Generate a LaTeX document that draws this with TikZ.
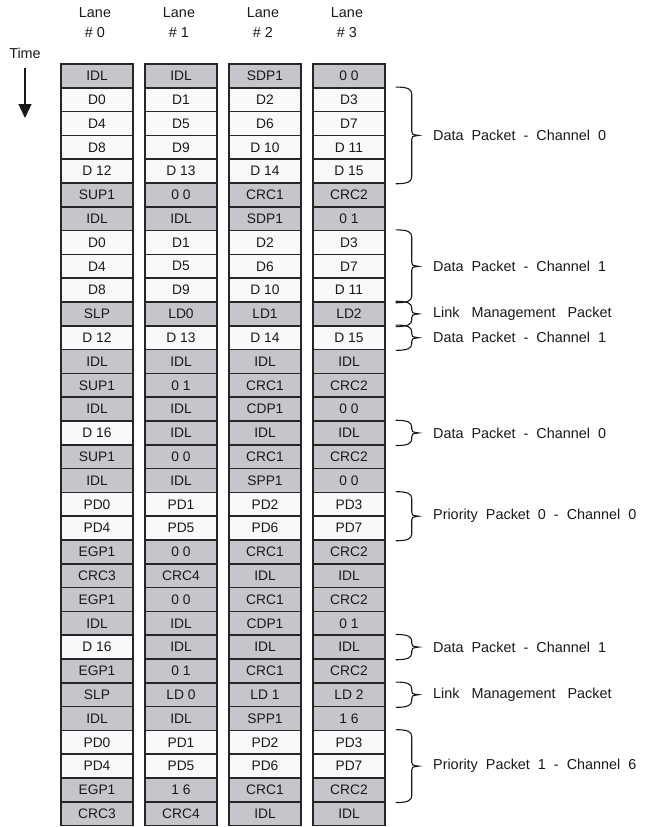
\documentclass[tikz,border=0pt]{standalone}
\usepackage{fontspec}
\setmainfont{Liberation Sans}
\usepackage{xcolor}
\usetikzlibrary{calc,arrows.meta}
\definecolor{cellgray}{HTML}{C4C6CC}
\definecolor{cellwhite}{HTML}{F8F9FB}
\definecolor{edge}{HTML}{262626}

\begin{document}
\begin{tikzpicture}[
  x=0.5pt, y=-0.5pt,
  font=\fontsize{6.9}{8}\selectfont,
  cell/.style={draw=edge, line width=0.75pt, minimum width=36pt, minimum height=11.9pt, inner sep=0pt, text=black!90},
  gc/.style={cell, fill=cellgray},
  wc/.style={cell, fill=cellwhite},
  head/.style={font=\fontsize{7.2}{9.7}\selectfont, align=center, text=black!90},
  pklab/.style={font=\fontsize{7.2}{8.5}\selectfont, anchor=west, inner sep=0pt, text=black!90},
  brc/.style={draw=black!90, line width=0.55pt},
  tarr/.style={-{Triangle[length=7pt,width=6.5pt]}, line width=0.6pt, black!90}]
  \useasboundingbox (0,0) rectangle (647,827);
  % lane heads and time axis
  \foreach \l in {0,...,3}
    \node[head] (lane\l) at ({95+84*\l},22.5) {Lane\\\# \l};
  \node[head] (time) at (25,53) {Time};
  \coordinate (tend) at (26,118);
  \draw[tarr] ([yshift=-1.5pt]time.south) -- (time.south |- tend);
  % one row per time slot, lanes 0..3
  \foreach \cells [count=\r] in {
    {gc/IDL,gc/IDL,gc/SDP1,gc/0 0},
    {wc/D0,wc/D1,wc/D2,wc/D3},
    {wc/D4,wc/D5,wc/D6,wc/D7},
    {wc/D8,wc/D9,wc/D 10,wc/D 11},
    {wc/D 12,wc/D 13,wc/D 14,wc/D 15},
    {gc/SUP1,gc/0 0,gc/CRC1,gc/CRC2},
    {gc/IDL,gc/IDL,gc/SDP1,gc/0 1},
    {wc/D0,wc/D1,wc/D2,wc/D3},
    {wc/D4,wc/D5,wc/D6,wc/D7},
    {wc/D8,wc/D9,wc/D 10,wc/D 11},
    {gc/SLP,gc/LD0,gc/LD1,gc/LD2},
    {wc/D 12,wc/D 13,wc/D 14,wc/D 15},
    {gc/IDL,gc/IDL,gc/IDL,gc/IDL},
    {gc/SUP1,gc/0 1,gc/CRC1,gc/CRC2},
    {gc/IDL,gc/IDL,gc/CDP1,gc/0 0},
    {wc/D 16,gc/IDL,gc/IDL,gc/IDL},
    {gc/SUP1,gc/0 0,gc/CRC1,gc/CRC2},
    {gc/IDL,gc/IDL,gc/SPP1,gc/0 0},
    {wc/PD0,wc/PD1,wc/PD2,wc/PD3},
    {wc/PD4,wc/PD5,wc/PD6,wc/PD7},
    {gc/EGP1,gc/0 0,gc/CRC1,gc/CRC2},
    {gc/CRC3,gc/CRC4,gc/IDL,gc/IDL},
    {gc/EGP1,gc/0 0,gc/CRC1,gc/CRC2},
    {gc/IDL,gc/IDL,gc/CDP1,gc/0 1},
    {wc/D 16,gc/IDL,gc/IDL,gc/IDL},
    {gc/EGP1,gc/0 1,gc/CRC1,gc/CRC2},
    {gc/SLP,gc/LD 0,gc/LD 1,gc/LD 2},
    {gc/IDL,gc/IDL,gc/SPP1,gc/1 6},
    {wc/PD0,wc/PD1,wc/PD2,wc/PD3},
    {wc/PD4,wc/PD5,wc/PD6,wc/PD7},
    {gc/EGP1,gc/1 6,gc/CRC1,gc/CRC2},
    {gc/CRC3,gc/CRC4,gc/IDL,gc/IDL}}
    \foreach \sty/\txt [count=\l from 0] in \cells
      \node[\sty] (c\r-\l) at ({97+84*\l},{75.9+23.8*(\r-1)}) {\txt};
  % packet braces on the right
  \foreach \a/\b/\txt [count=\i] in {
    2/5/{Data~~Packet~~-~~Channel~~0},
    8/10/{Data~~Packet~~-~~Channel~~1},
    11/11/{Link~~~Management~~~Packet},
    12/12/{Data~~Packet~~-~~Channel~~1},
    16/16/{Data~~Packet~~-~~Channel~~0},
    19/20/{Priority~~Packet~~0~~-~~Channel~~0},
    25/25/{Data~~Packet~~-~~Channel~~1},
    27/27/{Link~~~Management~~~Packet},
    29/31/{Priority~~Packet~~1~~-~~Channel~~6}} {
    \coordinate (bt\i) at ([xshift=5pt]c\a-3.north east);
    \coordinate (bb\i) at ([xshift=5pt]c\b-3.south east);
    \coordinate (bm\i) at ($(bt\i)!0.5!(bb\i)$);
    \draw[brc] (bt\i) .. controls ($(bt\i)+(6pt,0)$) and ($(bt\i)+(8pt,-1pt)$) .. ($(bt\i)+(8pt,-3.5pt)$)
      -- ($(bm\i)+(8pt,2pt)$) .. controls ($(bm\i)+(8pt,0.5pt)$) .. ($(bm\i)+(11.5pt,0)$)
      .. controls ($(bm\i)+(8pt,-0.5pt)$) .. ($(bm\i)+(8pt,-2pt)$)
      -- ($(bb\i)+(8pt,3.5pt)$) .. controls ($(bb\i)+(8pt,1pt)$) and ($(bb\i)+(6pt,0)$) .. (bb\i);
    \node[pklab] (pk\i) at ([xshift=18.5pt]bm\i) {\txt};
  }
\end{tikzpicture}
\end{document}
